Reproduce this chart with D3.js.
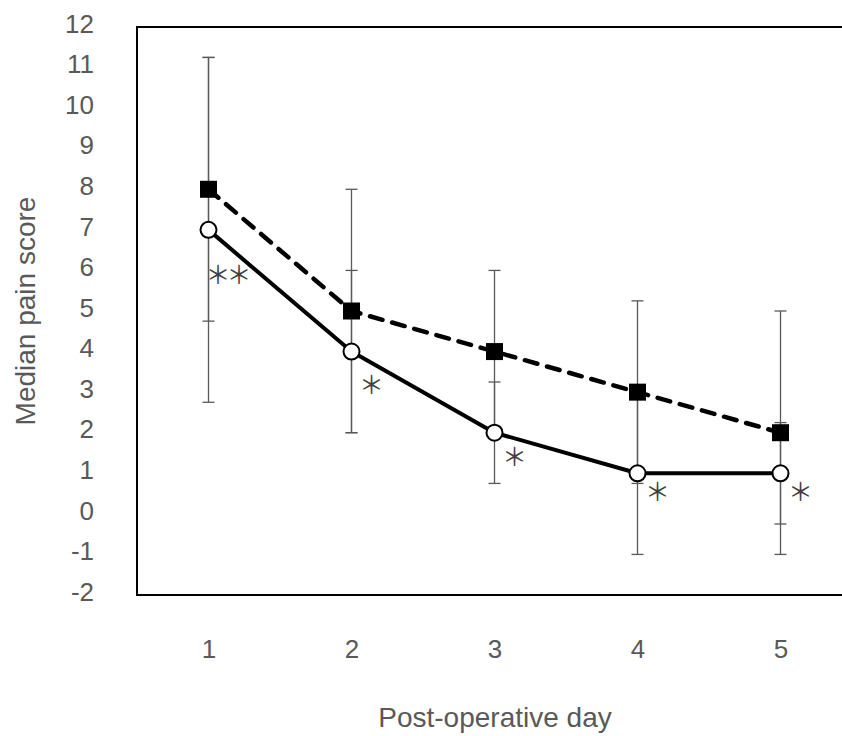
<!DOCTYPE html>
<html>
<head>
<meta charset="utf-8">
<script src="https://cdn.jsdelivr.net/npm/d3@7"></script>
<style>
  body { margin: 0; background: #fff; }
  svg { display: block; font-family: "Liberation Sans", Arial, sans-serif; }
</style>
</head>
<body>
<div id="chart"></div>
<script>
// post-operative pain scores
const days = [1, 2, 3, 4, 5];
const yTicks = [-2, -1, 0, 1, 2, 3, 4, 5, 6, 7, 8, 9, 10, 11, 12];

// square markers, dashed line
const groupA = [8, 5, 4, 3, 2];
const errA = [3.25, 3, 2, 2.25, 3];

// open circles, solid line
const groupB = [7, 4, 2, 1, 1];
const errB = [4.25, 2, 1.25, 2, 1.25];

// significance marks and the score they sit at
const sigText = ["**", "*", "*", "*", "*"];
const sigAt = [5.93, 3.22, 1.45, 0.59, 0.59];

const W = 842, H = 736;
const margin = { top: 27, right: -10, bottom: 141, left: 137 },
      width = W - margin.left - margin.right,
      height = H - margin.top - margin.bottom;

const svg = d3.select("#chart")
  .append("svg")
  .attr("width", W)
  .attr("height", H);

const g = svg.append("g")
  .attr("transform", `translate(${margin.left},${margin.top})`);

const x = d3.scaleLinear().domain([0.5, 5.5]).range([0, width]);
const y = d3.scaleLinear().domain([-2, 12]).range([height, 0]);

// y axis labels (no ticks)
const yAxis = g.append("g")
  .call(d3.axisLeft(y).tickValues(yTicks).tickFormat(d => String(d)).tickSize(0).tickPadding(43));
yAxis.select(".domain").remove();
yAxis.selectAll("text")
  .attr("dy", "0.2em")
  .style("font-family", "Liberation Sans")
  .style("font-size", "26px")
  .attr("fill", "#595959");

// x axis labels
const xAxis = g.append("g")
  .attr("transform", `translate(0,${height})`)
  .call(d3.axisBottom(x).tickValues(days).tickFormat(d => String(d)).tickSize(0).tickPadding(45));
xAxis.select(".domain").remove();
xAxis.selectAll("text")
  .style("font-family", "Liberation Sans")
  .style("font-size", "26px")
  .attr("fill", "#595959");

// plot frame
g.append("rect")
  .attr("x", 0).attr("y", 0)
  .attr("width", width).attr("height", height)
  .attr("fill", "none")
  .attr("stroke", "#000")
  .attr("stroke-width", 2);

// error bars
const bars = [];
days.forEach((d, i) => {
  bars.push({ day: d, lo: groupA[i] - errA[i], hi: groupA[i] + errA[i] });
  bars.push({ day: d, lo: groupB[i] - errB[i], hi: groupB[i] + errB[i] });
});
const capW = 6;
const eb = g.append("g").attr("stroke", "#595959").attr("stroke-width", 1.3);
bars.forEach(b => {
  eb.append("line")
    .attr("x1", x(b.day)).attr("x2", x(b.day))
    .attr("y1", y(b.hi)).attr("y2", y(b.lo));
  [b.hi, b.lo].forEach(v => {
    eb.append("line")
      .attr("x1", x(b.day) - capW).attr("x2", x(b.day) + capW)
      .attr("y1", y(v)).attr("y2", y(v));
  });
});

// lines
const line = (vals) => d3.line()
  .x((d, i) => x(days[i]))
  .y(d => y(d))(vals);

g.append("path")
  .attr("d", line(groupA))
  .attr("fill", "none")
  .attr("stroke", "#000")
  .attr("stroke-width", 4.5)
  .attr("stroke-dasharray", "13,10")
  .attr("stroke-linecap", "round");

g.append("path")
  .attr("d", line(groupB))
  .attr("fill", "none")
  .attr("stroke", "#000")
  .attr("stroke-width", 4)
  .attr("stroke-linejoin", "round");

// markers
const sq = 17;
g.selectAll("rect.sq")
  .data(groupA)
  .enter().append("rect")
  .attr("class", "sq")
  .attr("x", (d, i) => x(days[i]) - sq / 2)
  .attr("y", d => y(d) - sq / 2)
  .attr("width", sq).attr("height", sq)
  .attr("fill", "#000");

g.selectAll("circle")
  .data(groupB)
  .enter().append("circle")
  .attr("cx", (d, i) => x(days[i]))
  .attr("cy", d => y(d))
  .attr("r", 8)
  .attr("fill", "#fff")
  .attr("stroke", "#000")
  .attr("stroke-width", 2);

// significance asterisks
g.selectAll("text.sig")
  .data(sigText)
  .enter().append("text")
  .attr("class", "sig")
  .attr("x", (d, i) => x(days[i]) + 18)
  .attr("y", (d, i) => y(sigAt[i]))
  .attr("text-anchor", "middle")
  .attr("dominant-baseline", "central")
  .style("font-family", "'Noto Sans CJK JP'")
  .style("font-size", "25px")
  .style("letter-spacing", "-4px")
  .attr("fill", "#404040")
  .text(d => d.replace(/\*/g, "\uFF0A"));

// axis titles
svg.append("text")
  .attr("x", 495).attr("y", 727)
  .attr("text-anchor", "middle")
  .style("font-size", "28px")
  .attr("fill", "#595959")
  .text("Post-operative day");

svg.append("text")
  .attr("transform", "translate(35,311) rotate(-90)")
  .attr("text-anchor", "middle")
  .style("font-size", "28px")
  .attr("fill", "#595959")
  .text("Median pain score");
</script>
</body>
</html>
